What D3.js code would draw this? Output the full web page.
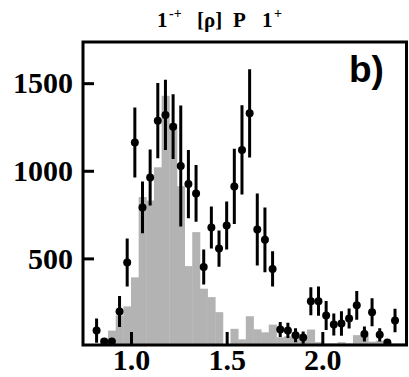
<!DOCTYPE html>
<html>
<head>
<meta charset="utf-8">
<script src="https://cdn.jsdelivr.net/npm/d3@7"></script>
<style>
  html, body { margin: 0; padding: 0; background: #fff; }
  svg { display: block; }
</style>
</head>
<body>
<svg id="chart" width="409" height="377"></svg>
<script>
// ---- data ----
const pointMass = [0.82,0.86,0.90,0.94,0.98,1.02,1.06,1.10,1.14,1.18,1.22,1.26,1.30,1.34,1.38,1.42,1.46,1.50,1.54,1.58,1.62,1.66,1.70,1.74,1.78,1.82,1.86,1.90,1.94,1.98,2.02,2.06,2.10,2.14,2.18,2.22,2.26,2.30,2.34,2.38];
const pointValue = [88,25,25,197,476,1161,791,962,1286,1319,1252,1027,924,871,451,676,556,688,911,1119,1328,665,606,440,94,89,62,48,256,256,174,123,128,157,232,69,193,64,20,146];
const pointError = [69,12,12,88,137,200,148,160,215,200,185,345,195,162,100,120,103,137,215,255,252,206,185,101,43,43,40,35,80,83,83,63,70,57,82,43,80,38,12,67];

const histLow = [0.84,0.88,0.92,0.96,1.00,1.04,1.08,1.12,1.16,1.20,1.24,1.28,1.32,1.36,1.40,1.44,1.48,1.52,1.56,1.60,1.64,1.68,1.72,1.76,1.80,1.84,1.88,1.92,1.96,2.00,2.04,2.08,2.12,2.16,2.20,2.24,2.28,2.32,2.36,2.40];
const histValue = [43,88,174,226,392,850,830,1020,1428,1270,912,456,650,327,279,193,0,98,38,170,95,78,122,50,55,70,45,94,22,15,15,22,15,62,60,25,30,20,15,15];
const binWidth = 0.04;

const xTicks = [1.0, 1.5, 2.0];
const yTicks = [500, 1000, 1500];
const xDomain = [0.749, 2.44];
const yDomain = [0, 1735];

// ---- layout ----
const padLeft = 83, padRight = 406.5, padTop = 42, padBottom = 345;
const svg = d3.select("#chart");

const x = d3.scaleLinear().domain(xDomain).range([padLeft, padRight]);
const y = d3.scaleLinear().domain(yDomain).range([346, padTop]);

svg.append("defs").append("clipPath").attr("id", "plotclip")
  .append("rect").attr("x", padLeft).attr("y", padTop)
  .attr("width", padRight - padLeft).attr("height", padBottom - padTop);

const plot = svg.append("g").attr("clip-path", "url(#plotclip)");

// histogram
plot.selectAll("rect.hist").data(histLow.map((d, i) => ({lo: d, v: histValue[i]})))
  .enter().append("rect")
  .attr("class", "hist")
  .attr("x", d => x(d.lo))
  .attr("width", d => x(d.lo + binWidth) - x(d.lo) + 0.4)
  .attr("y", d => y(d.v))
  .attr("height", d => Math.max(0, y(0) - y(d.v)))
  .attr("fill", "#b3b3b3");

// axes (ticks inside)
const gx = svg.append("g").attr("transform", `translate(0,${padBottom})`)
  .call(d3.axisBottom(x).tickValues(xTicks).tickFormat(d3.format(".1f")).tickSize(-13).tickPadding(5));
const gy = svg.append("g").attr("transform", `translate(${padLeft},0)`)
  .call(d3.axisLeft(y).tickValues(yTicks).tickFormat(d3.format("d")).tickSize(-11).tickPadding(10));

[gx, gy].forEach(g => {
  g.select(".domain").remove();
  g.selectAll(".tick line").attr("stroke", "#000").attr("stroke-width", 3);
  g.selectAll(".tick text")
    .attr("fill", "#000")
    .style("font-family", "'Liberation Serif', 'Times New Roman', serif")
    .style("font-weight", "bold")
    .style("font-size", "30px");
});
gx.selectAll(".tick text").attr("dy", "0.68em");

// error bars and points
const pts = pointMass.map((m, i) => ({m, v: pointValue[i], e: pointError[i]}));
plot.selectAll("line.err").data(pts).enter().append("line")
  .attr("x1", d => x(d.m)).attr("x2", d => x(d.m))
  .attr("y1", d => y(d.v + d.e)).attr("y2", d => y(Math.max(0, d.v - d.e)))
  .attr("stroke", "#000").attr("stroke-width", 3);
plot.selectAll("circle.pt").data(pts).enter().append("circle")
  .attr("cx", d => x(d.m)).attr("cy", d => y(d.v)).attr("r", 4)
  .attr("fill", "#000");

// frame
svg.append("rect")
  .attr("x", padLeft).attr("y", padTop)
  .attr("width", padRight - padLeft).attr("height", padBottom - padTop)
  .attr("fill", "none").attr("stroke", "#000").attr("stroke-width", 3);

// panel label
svg.append("text")
  .attr("x", 349).attr("y", 82)
  .style("font-family", "'Liberation Sans', Arial, sans-serif")
  .style("font-weight", "bold")
  .style("font-size", "37px")
  .attr("fill", "#000")
  .text("b)");

// title
const t = svg.append("text")
  .attr("y", 27)
  .style("font-family", "'Liberation Serif', 'Times New Roman', serif")
  .style("font-weight", "bold")
  .style("font-size", "21px")
  .attr("fill", "#000");
t.append("tspan").attr("x", 157).text("1");
t.append("tspan").attr("x", 169).attr("dy", -9).style("font-size", "14px").text("-+");
t.append("tspan").attr("x", 197).attr("dy", 9).text("[ρ]");
t.append("tspan").attr("x", 233).text("P");
t.append("tspan").attr("x", 262).text("1");
t.append("tspan").attr("x", 274).attr("dy", -9).style("font-size", "14px").text("+");
</script>
</body>
</html>
